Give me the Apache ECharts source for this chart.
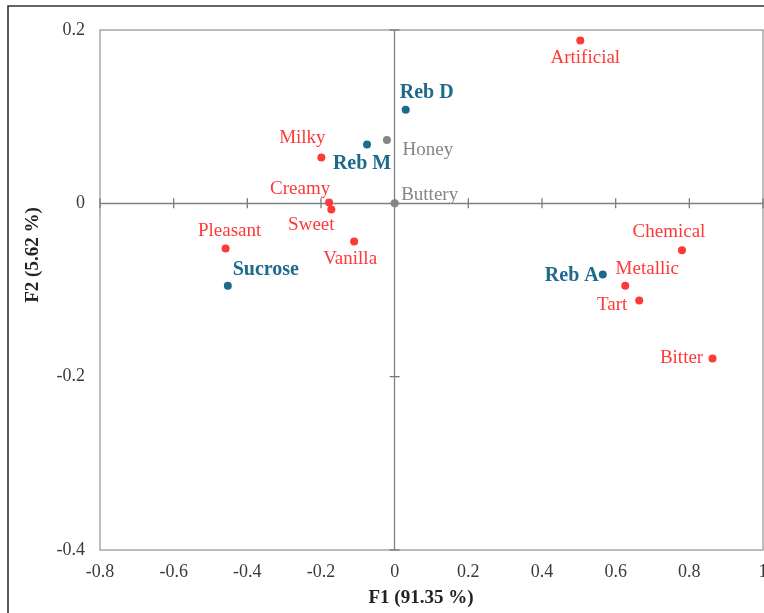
<!DOCTYPE html>
<html>
<head>
<meta charset="utf-8">
<script src="https://cdn.jsdelivr.net/npm/echarts@6/dist/echarts.min.js"></script>
<style>html,body{margin:0;padding:0;background:#fff}#c{width:764px;height:613px}</style>
</head>
<body>
<div id="c"></div>
<script>
// ---- data ----
const attrNames = ['Artificial','Milky','Creamy','Sweet','Vanilla','Pleasant','Chemical','Metallic','Tart','Bitter'];
const attrF1 = [0.504,-0.199,-0.178,-0.172,-0.110,-0.459,0.780,0.626,0.664,0.863];
const attrF2 = [0.188,0.053,0.001,-0.007,-0.044,-0.052,-0.054,-0.095,-0.112,-0.179];
const sweetNames = ['Reb D','Reb M','Sucrose','Reb A'];
const sweetF1 = [0.030,-0.075,-0.453,0.565];
const sweetF2 = [0.108,0.068,-0.095,-0.082];
const neutralNames = ['Honey','Buttery'];
const neutralF1 = [-0.021,0.0];
const neutralF2 = [0.073,0.0];
const xTicks = [-0.8,-0.6,-0.4,-0.2,0,0.2,0.4,0.6,0.8,1];
const yTicks = [0.2,0,-0.2,-0.4];
const xTitle = 'F1 (91.35 %)';
const yTitle = 'F2 (5.62 %)';

// ---- label layout (pixel offsets of label centre from the point) ----
const labelOffsets = {
  'Artificial':[5,18],'Reb D':[21,-17],'Honey':[41,10],'Reb M':[-5,19],'Milky':[-19,-19],
  'Creamy':[-29,-13],'Sweet':[-20,16],'Vanilla':[-4,18],'Pleasant':[4,-17],'Sucrose':[38,-16],
  'Buttery':[35,-8],'Chemical':[-13,-18],'Reb A':[-31,1],'Metallic':[22,-17],'Tart':[-27,5],'Bitter':[-31,0]
};

const RED = '#FF3838', BLUE = '#1D6A8A', GRAY = '#858585';
const FONT = '"Liberation Serif", "Times New Roman", serif';

function build(names, xs, ys) {
  return names.map((n, i) => ({
    name: n,
    value: [xs[i], ys[i]],
    label: { offset: labelOffsets[n] || [0, 0] }
  }));
}
function pointSeries(name, data, color, bold) {
  return {
    name, type: 'scatter', data, symbolSize: 8, z: 5,
    itemStyle: { color, opacity: 1 },
    label: {
      show: true, formatter: '{b}', position: 'inside', align: 'center', verticalAlign: 'middle',
      color, fontFamily: FONT, fontSize: bold ? 20 : 19, fontWeight: bold ? 'bold' : 'normal'
    },
    emphasis: { disabled: true }
  };
}

const chart = echarts.init(document.getElementById('c'));
chart.setOption({
  animation: false,
  grid: { left: 100, top: 30, right: 1, bottom: 63, outerBoundsMode: 'none', containLabel: false,
    show: true, borderColor: '#A6A6A6', borderWidth: 1.5, backgroundColor: 'transparent' },
  xAxis: {
    type: 'value', min: -0.8, max: 1, interval: 0.2, position: 'bottom',
    axisLine: { show: false, onZero: false }, axisTick: { show: false }, splitLine: { show: false },
    axisLabel: { color: '#3a3a3a', fontFamily: FONT, fontSize: 18, margin: 13, hideOverlap: false,
      showMinLabel: true, showMaxLabel: true,
      formatter: v => (Math.abs(v) < 1e-9 ? '0' : String(+v.toFixed(1))) }
  },
  yAxis: {
    type: 'value', min: -0.4, max: 0.2, interval: 0.2, position: 'left',
    axisLine: { show: false, onZero: false }, axisTick: { show: false }, splitLine: { show: false },
    axisLabel: { color: '#3a3a3a', fontFamily: FONT, fontSize: 18, margin: 15,
      formatter: v => (Math.abs(v) < 1e-9 ? '0' : String(+v.toFixed(1))) }
  },
  graphic: [
    { type: 'rect', shape: { x: 8, y: 6, width: 800, height: 700 }, style: { fill: 'none', stroke: '#333', lineWidth: 1.6 }, silent: true },
    { type: 'text', x: 421, y: 598, style: { text: xTitle, font: 'bold 19px ' + FONT, fill: '#222', align: 'center', verticalAlign: 'middle' } },
    { type: 'text', x: 33, y: 255, rotation: Math.PI / 2, style: { text: yTitle, font: 'bold 19px ' + FONT, fill: '#222', align: 'center', verticalAlign: 'middle' } }
  ],
  series: [
    {
      type: 'scatter', silent: true, z: 2, symbol: 'rect', symbolSize: [1.3, 10],
      itemStyle: { color: '#7a7a7a', opacity: 1 },
      data: xTicks.map(v => [v, 0]),
      markLine: {
        silent: true, symbol: 'none', label: { show: false },
        lineStyle: { color: '#808080', width: 1.3, type: 'solid' },
        data: [{ xAxis: 0 }, { yAxis: 0 }]
      }
    },
    {
      type: 'scatter', silent: true, z: 2, symbol: 'rect', symbolSize: [10, 1.3],
      itemStyle: { color: '#7a7a7a', opacity: 1 },
      data: yTicks.map(v => [0, v])
    },
    pointSeries('Attributes', build(attrNames, attrF1, attrF2), RED, false),
    pointSeries('Sweeteners', build(sweetNames, sweetF1, sweetF2), BLUE, true),
    pointSeries('Other', build(neutralNames, neutralF1, neutralF2), GRAY, false)
  ]
});
</script>
</body>
</html>
